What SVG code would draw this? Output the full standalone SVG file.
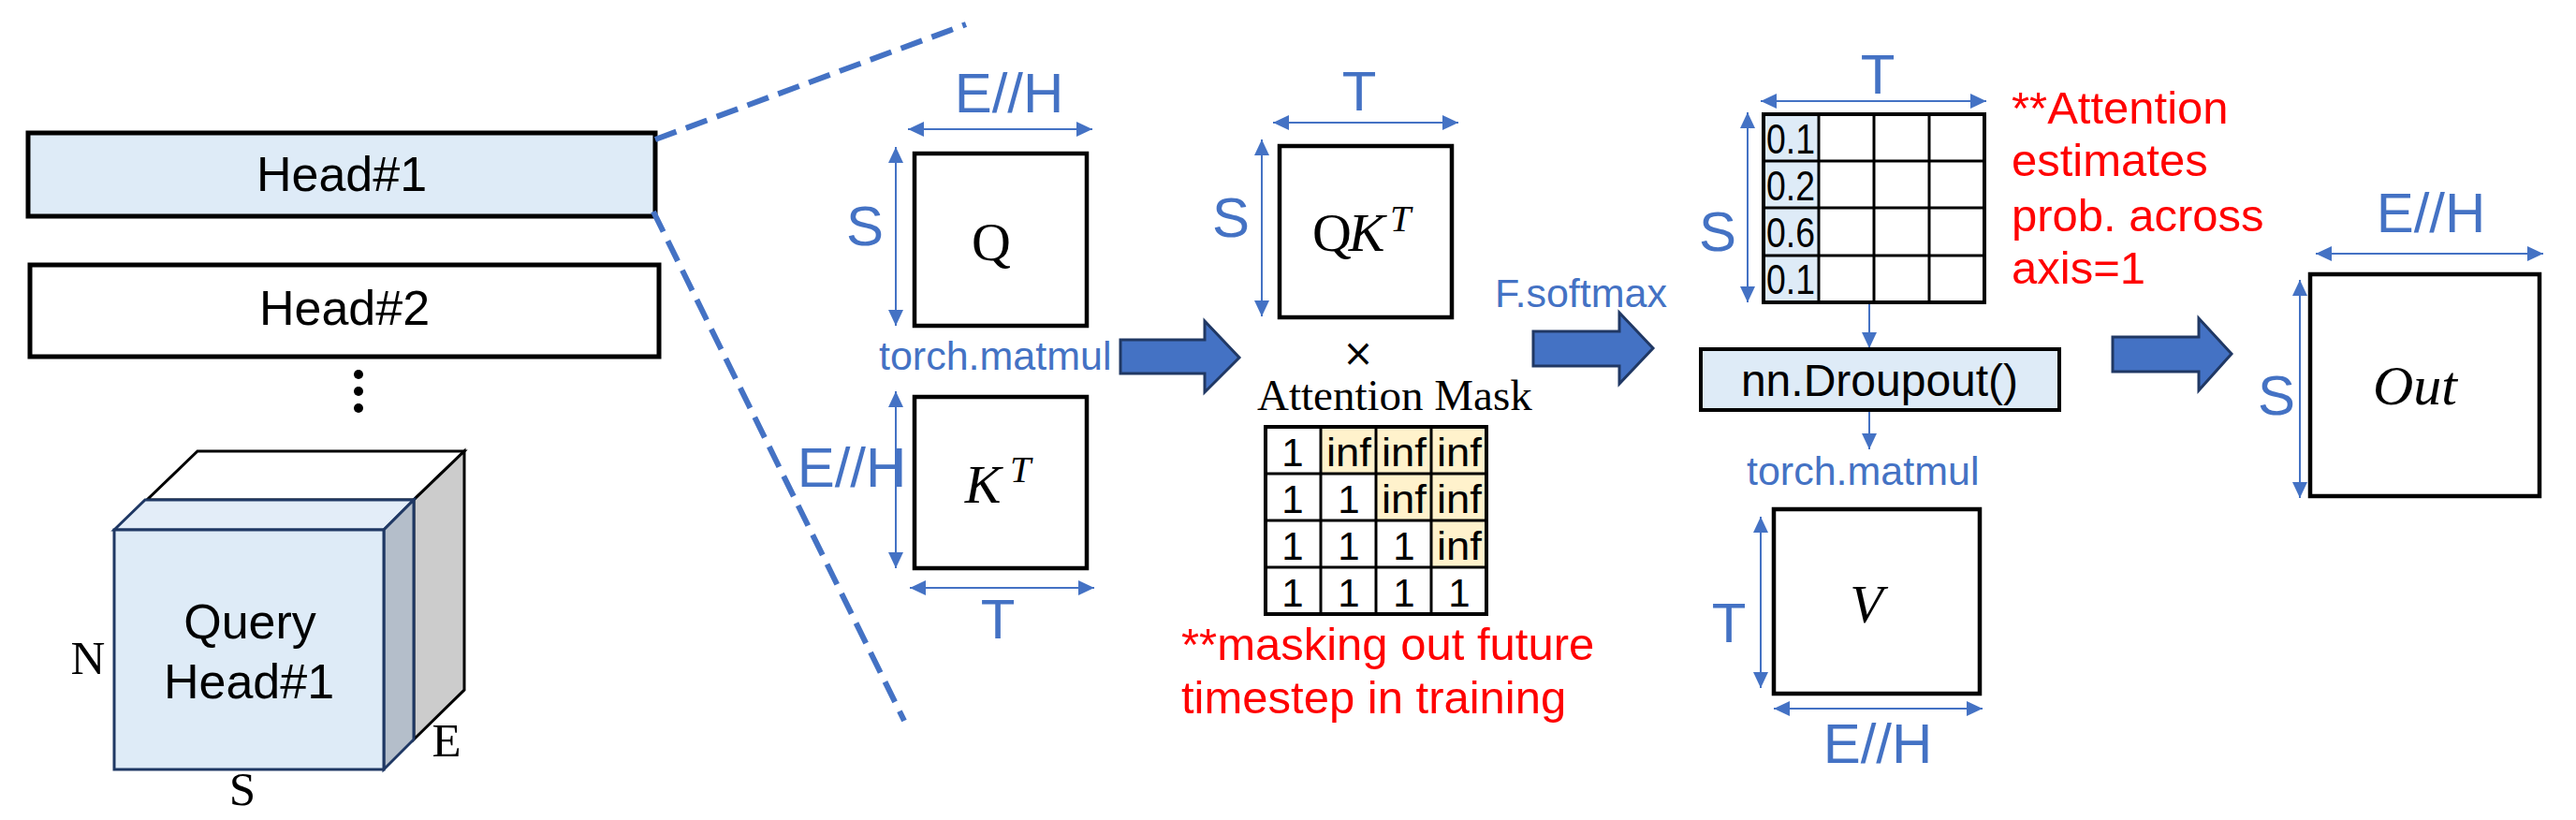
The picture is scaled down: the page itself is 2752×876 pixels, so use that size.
<svg xmlns="http://www.w3.org/2000/svg" width="2752" height="876" viewBox="0 0 2752 876">
<style>
.sans{font-family:"Liberation Sans",Arial,sans-serif}
.serif{font-family:"Liberation Serif","Times New Roman",serif}
.dim{font-family:"Liberation Sans",Arial,sans-serif;font-size:60px;fill:#4472C4;text-anchor:middle}
.op{font-family:"Liberation Sans",Arial,sans-serif;font-size:43px;fill:#4472C4}
.red{font-family:"Liberation Sans",Arial,sans-serif;font-size:49px;fill:#FF0000}
.mat{fill:#FFFFFF;stroke:#000;stroke-width:4.5}
.dimline{stroke:#4472C4;stroke-width:2;fill:none;marker-start:url(#ah);marker-end:url(#ah)}
.oneline{stroke:#4472C4;stroke-width:2;fill:none;marker-end:url(#ah)}
.dash{stroke:#4472C4;stroke-width:6;stroke-dasharray:24 11;fill:none}
.block{fill:#4472C4;stroke:#203864;stroke-width:3;stroke-linejoin:miter}
.cell{font-family:"Liberation Sans",Arial,sans-serif;font-size:42px;fill:#000;text-anchor:middle}
.math{font-family:"Liberation Serif","Times New Roman",serif;fill:#000;text-anchor:middle}
</style>
<defs>
<marker id="ah" viewBox="0 0 17 16" refX="17" refY="8" markerWidth="17" markerHeight="16" markerUnits="userSpaceOnUse" orient="auto-start-reverse">
<path d="M0,0 L17,8 L0,16 z" fill="#4472C4"/>
</marker>
</defs>
<rect width="2752" height="876" fill="#FFFFFF"/>

<g id="head1">
<rect x="30" y="142" width="670" height="89" fill="#DEEBF7" stroke="#000" stroke-width="5"/>
<text class="sans" x="365" y="204" font-size="52" text-anchor="middle">Head#1</text>
</g>
<g id="head2">
<rect x="32" y="283" width="672" height="98" fill="#FFFFFF" stroke="#000" stroke-width="5"/>
<text class="sans" x="368" y="347" font-size="52" text-anchor="middle">Head#2</text>
</g>
<g id="dots">
<circle cx="383" cy="400" r="5" fill="#000"/>
<circle cx="383" cy="418" r="5" fill="#000"/>
<circle cx="383" cy="436" r="5" fill="#000"/>
</g>

<g id="query-cube">
<polygon points="211,482 496,482 442,534 157,534" fill="#FFFFFF" stroke="#000" stroke-width="3" stroke-linejoin="miter"/>
<polygon points="496,482 496,737 442,790 442,534" fill="#CCCCCC" stroke="#000" stroke-width="3"/>
<polygon points="122,566 155,534 442,534 410,566" fill="#E3EDF8" stroke="#1F3864" stroke-width="3"/>
<polygon points="410,566 442,534 442,790 410,822" fill="#B4BECA" stroke="#1F3864" stroke-width="3"/>
<rect x="122" y="566" width="288" height="256" fill="#DEEBF7" stroke="#1F3864" stroke-width="3"/>
<text class="sans" x="267" y="682" font-size="52" text-anchor="middle">Query</text>
<text class="sans" x="266" y="746" font-size="52" text-anchor="middle">Head#1</text>
<text class="serif" x="94" y="720" font-size="51" text-anchor="middle">N</text>
<text class="serif" x="259" y="860" font-size="51" text-anchor="middle">S</text>
<text class="serif" x="477" y="808" font-size="51" text-anchor="middle">E</text>
</g>

<g id="connectors">
<line class="dash" x1="700" y1="149" x2="1032" y2="26"/>
<line class="dash" x1="698" y1="226" x2="966" y2="770"/>
<polygon class="block" points="1197,363 1287,363 1287,343 1324,382 1287,419 1287,399 1197,399"/>
<polygon class="block" points="1638,354 1730,354 1730,334 1766,372 1730,410 1730,391 1638,391"/>
<polygon class="block" points="2257,360 2349,360 2349,340 2384,378 2349,417 2349,397 2257,397"/>
<line class="oneline" x1="1997" y1="324" x2="1997" y2="372"/>
<line class="oneline" x1="1997" y1="438" x2="1997" y2="480"/>
</g>

<g id="labels-ops">
<text class="op" x="939" y="395">torch.matmul</text>
<text class="op" x="1597" y="328" font-size="40">F.softmax</text>
<text class="op" x="1866" y="518">torch.matmul</text>
</g>

<g id="matrix-q">
<rect class="mat" x="977" y="164" width="184" height="184"/>
<text class="math" x="1059" y="278" font-size="58">Q</text>
<line class="dimline" x1="970" y1="138" x2="1167" y2="138"/>
<text class="dim" x="1078" y="120">E//H</text>
<line class="dimline" x1="957" y1="157" x2="957" y2="348"/>
<text class="dim" x="924" y="262">S</text>
</g>

<g id="matrix-kt">
<rect class="mat" x="977" y="424" width="184" height="183"/>
<text class="math" x="1050" y="537" font-size="58" font-style="italic">K</text>
<text class="math" x="1090" y="515" font-size="40" font-style="italic">T</text>
<line class="dimline" x1="957" y1="418" x2="957" y2="607"/>
<text class="dim" x="910" y="520">E//H</text>
<line class="dimline" x1="972" y1="628" x2="1169" y2="628"/>
<text class="dim" x="1066" y="682">T</text>
</g>

<g id="matrix-qkt">
<rect class="mat" x="1367" y="156" width="184" height="183"/>
<text class="math" x="1423" y="268" font-size="58">Q</text>
<text class="math" x="1460" y="268" font-size="58" font-style="italic">K</text>
<text class="math" x="1496" y="247" font-size="40" font-style="italic">T</text>
<line class="dimline" x1="1360" y1="131" x2="1558" y2="131"/>
<text class="dim" x="1452" y="118">T</text>
<line class="dimline" x1="1348" y1="149" x2="1348" y2="338"/>
<text class="dim" x="1315" y="253">S</text>
<text x="1451" y="391" font-size="40" font-family="'DejaVu Sans',sans-serif" text-anchor="middle" fill="#000">×</text>
<text class="serif" x="1343" y="438" font-size="47">Attention Mask</text>
</g>

<g id="attention-mask">
<rect x="1411" y="456" width="177" height="50" fill="#FFF2CC"/>
<rect x="1470" y="506" width="118" height="50" fill="#FFF2CC"/>
<rect x="1529" y="556" width="59" height="50" fill="#FFF2CC"/>
<g stroke="#000" stroke-width="3">
<line x1="1411" y1="456" x2="1411" y2="656"/>
<line x1="1470" y1="456" x2="1470" y2="656"/>
<line x1="1529" y1="456" x2="1529" y2="656"/>
<line x1="1352" y1="506" x2="1588" y2="506"/>
<line x1="1352" y1="556" x2="1588" y2="556"/>
<line x1="1352" y1="606" x2="1588" y2="606"/>
</g>
<rect x="1352" y="456" width="236" height="200" fill="none" stroke="#000" stroke-width="4"/>
<text class="cell" x="1381" y="498">1</text>
<text class="cell" x="1441" y="498" textLength="48" lengthAdjust="spacingAndGlyphs">inf</text>
<text class="cell" x="1500" y="498" textLength="48" lengthAdjust="spacingAndGlyphs">inf</text>
<text class="cell" x="1559" y="498" textLength="48" lengthAdjust="spacingAndGlyphs">inf</text>
<text class="cell" x="1381" y="548">1</text>
<text class="cell" x="1441" y="548">1</text>
<text class="cell" x="1500" y="548" textLength="48" lengthAdjust="spacingAndGlyphs">inf</text>
<text class="cell" x="1559" y="548" textLength="48" lengthAdjust="spacingAndGlyphs">inf</text>
<text class="cell" x="1381" y="598">1</text>
<text class="cell" x="1441" y="598">1</text>
<text class="cell" x="1500" y="598">1</text>
<text class="cell" x="1559" y="598" textLength="48" lengthAdjust="spacingAndGlyphs">inf</text>
<text class="cell" x="1381" y="648">1</text>
<text class="cell" x="1441" y="648">1</text>
<text class="cell" x="1500" y="648">1</text>
<text class="cell" x="1559" y="648">1</text>
<text class="red" x="1262" y="705">**masking out future</text>
<text class="red" x="1262" y="762">timestep in training</text>
</g>

<g id="attention-probs">
<rect x="1884" y="122" width="59" height="201" fill="#DEEBF7"/>
<g stroke="#000" stroke-width="3">
<line x1="1943" y1="122" x2="1943" y2="323"/>
<line x1="2002" y1="122" x2="2002" y2="323"/>
<line x1="2061" y1="122" x2="2061" y2="323"/>
<line x1="1884" y1="172" x2="2120" y2="172"/>
<line x1="1884" y1="222" x2="2120" y2="222"/>
<line x1="1884" y1="273" x2="2120" y2="273"/>
</g>
<rect x="1884" y="122" width="236" height="201" fill="none" stroke="#000" stroke-width="4"/>
<text class="sans" x="1887" y="164" font-size="44" textLength="52" lengthAdjust="spacingAndGlyphs">0.1</text>
<text class="sans" x="1887" y="214" font-size="44" textLength="52" lengthAdjust="spacingAndGlyphs">0.2</text>
<text class="sans" x="1887" y="264" font-size="44" textLength="52" lengthAdjust="spacingAndGlyphs">0.6</text>
<text class="sans" x="1887" y="314" font-size="44" textLength="52" lengthAdjust="spacingAndGlyphs">0.1</text>
<line class="dimline" x1="1881" y1="108" x2="2122" y2="108"/>
<text class="dim" x="2006" y="100">T</text>
<line class="dimline" x1="1867" y1="120" x2="1867" y2="323"/>
<text class="dim" x="1835" y="268">S</text>
<text class="red" x="2149" y="132">**Attention</text>
<text class="red" x="2149" y="188">estimates</text>
<text class="red" x="2149" y="247">prob. across</text>
<text class="red" x="2149" y="303">axis=1</text>
</g>

<g id="dropout">
<rect x="1817" y="373" width="383" height="65" fill="#DEEBF7" stroke="#000" stroke-width="4"/>
<text class="sans" x="2008" y="423" font-size="48" text-anchor="middle">nn.Droupout()</text>
</g>

<g id="matrix-v">
<rect class="mat" x="1895" y="544" width="220" height="197"/>
<text class="math" x="1994" y="665" font-size="58" font-style="italic">V</text>
<line class="dimline" x1="1881" y1="552" x2="1881" y2="735"/>
<text class="dim" x="1847" y="686">T</text>
<line class="dimline" x1="1895" y1="757" x2="2118" y2="757"/>
<text class="dim" x="2006" y="815">E//H</text>
</g>

<g id="matrix-out">
<rect class="mat" x="2468" y="293" width="245" height="237"/>
<text class="math" x="2580" y="432" font-size="60" font-style="italic">Out</text>
<line class="dimline" x1="2474" y1="271" x2="2717" y2="271"/>
<text class="dim" x="2597" y="248">E//H</text>
<line class="dimline" x1="2457" y1="299" x2="2457" y2="532"/>
<text class="dim" x="2432" y="443">S</text>
</g>
</svg>
